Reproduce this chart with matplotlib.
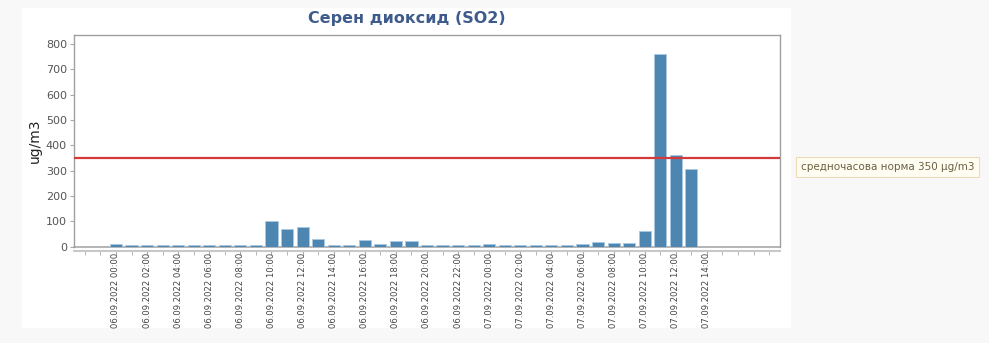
import numpy as np
import matplotlib
matplotlib.use('Agg')
import matplotlib.pyplot as plt
from matplotlib.patches import Rectangle
from matplotlib.ticker import MultipleLocator

# часови стойности SO2, 06.09.2022 00:00 - 07.09.2022 13:00
hours = [f'06.09.2022 {h:02d}:00' for h in range(24)] + [f'07.09.2022 {h:02d}:00' for h in range(15)]
so2 = [11, 8, 5, 5, 5, 5, 5, 5, 5, 7,
       100, 70, 78, 30, 6, 6, 28, 10, 21, 21,
       5, 5, 5, 6,
       10, 6, 5, 5, 6, 7, 10, 18, 14, 14,
       62, 762, 362, 306]
norm_value = 350
norm_label = 'средночасова норма 350 µg/m3'
title = 'Серен диоксид (SO2)'
ylabel = 'ug/m3'

fig = plt.figure(figsize=(9.89, 3.43), dpi=100)
fig.patch.set_facecolor('#f8f8f8')
# бял панел
fig.patches.append(Rectangle((22 / 989, 1 - 328 / 343), (791 - 22) / 989, (328 - 8) / 343,
                             transform=fig.transFigure, facecolor='white', edgecolor='none', zorder=-5))

ax = fig.add_axes([74 / 989, 1 - 247 / 343, (780 - 74) / 989, 212 / 343])
ax.set_zorder(2)

# рамка (преди тиковете, set_position нулира тиковете)
for s in ax.spines.values():
    s.set_color('#a0a0a0')
    s.set_linewidth(1.0)
ax.spines['bottom'].set_position(('outward', 3))
ax.spines['bottom'].set_color('#c8c8c8')
ax.spines['bottom'].set_linewidth(1.5)

x = np.arange(len(so2))
ax.axhline(0, color='#a8a8a8', linewidth=1.2, zorder=1, clip_on=False)
ax.bar(x, so2, width=0.78, color='#4d86b0', edgecolor='#a9c8e2', linewidth=0.6, zorder=2)
ax.axhline(norm_value, color='#d43a3a', linewidth=1.6, zorder=3)

ax.set_xlim(-2.7, 42.7)
ax.set_ylim(-1, 835)
ax.set_yticks(range(0, 801, 100))
ax.xaxis.set_minor_locator(MultipleLocator(1))
ax.tick_params(axis='x', which='both', length=3, color='#aaaaaa', pad=-2)
ax.tick_params(axis='y', length=3, color='#aaaaaa', labelsize=8, labelcolor='#555555', pad=2)
ax.set_xticks(range(0, len(hours), 2))
ax.set_xticklabels(hours[::2], rotation=90, fontsize=6.1, color='#444444')

ax.set_ylabel(ylabel, fontsize=10, color='#222222', labelpad=3)
fig.text(407 / 989, 1 - 19 / 343, title, ha='center', va='center', fontsize=11.5,
         fontweight='bold', color='#3f5b8c')

fig.text(801 / 989, 1 - 167 / 343, norm_label, ha='left', va='center', fontsize=7.5,
         color='#6b6040',
         bbox=dict(boxstyle='square,pad=0.45', facecolor='#fffdf2', edgecolor='#eadcb8', linewidth=0.8))

plt.savefig('out.png', dpi=100, facecolor=fig.get_facecolor())
